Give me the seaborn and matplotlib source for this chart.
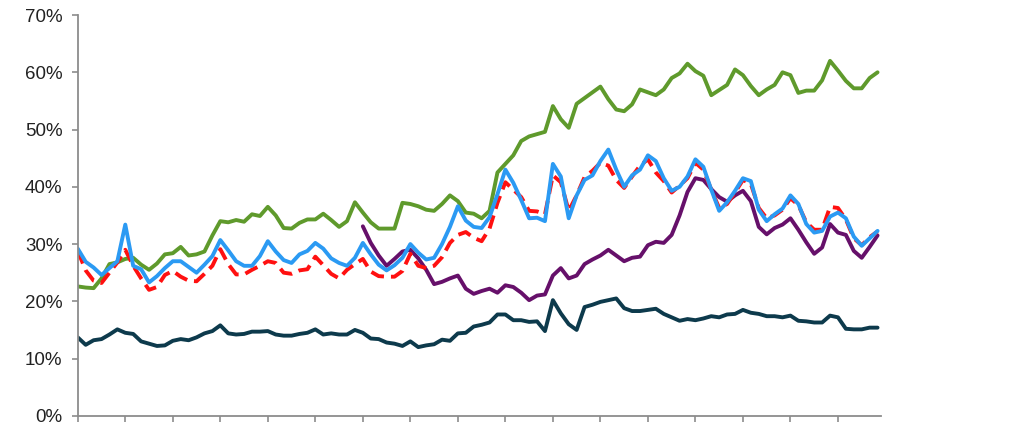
import numpy as np
import pandas as pd
import seaborn as sns
import matplotlib.pyplot as plt
from matplotlib.ticker import PercentFormatter

# values, 6 points per x tick
green = [22.6, 22.4, 22.3, 24.0, 26.5, 26.8, 27.4, 27.6, 26.4, 25.5,
         26.6, 28.2, 28.4, 29.5, 28.0, 28.2, 28.7, 31.5, 34.0, 33.8,
         34.2, 33.9, 35.2, 34.9, 36.5, 35.0, 32.8, 32.7, 33.7, 34.3,
         34.3, 35.3, 34.2, 33.0, 34.0, 37.3, 35.5, 33.8, 32.7, 32.7,
         32.7, 37.2, 37.0, 36.6, 36.0, 35.8, 37.0, 38.5, 37.5, 35.5,
         35.3, 34.5, 35.8, 42.5, 44.0, 45.5, 48.0, 48.8, 49.2, 49.6,
         54.1, 51.8, 50.3, 54.5, 55.5, 56.5, 57.5, 55.3, 53.5, 53.2,
         54.4, 57.0, 56.5, 56.0, 57.0, 59.0, 59.8, 61.5, 60.2, 59.4,
         56.0, 56.9, 57.8, 60.5, 59.5, 57.6, 56.0, 57.0, 57.8, 60.0,
         59.5, 56.4, 56.8, 56.8, 58.6, 62.0, 60.3, 58.5, 57.2, 57.2,
         59.0, 60.0]

blue = [29.2, 26.9, 25.9, 24.6, 25.8, 27.0, 33.4, 26.2, 25.6, 23.3,
        24.4, 25.8, 27.0, 27.0, 26.0, 25.0, 26.4, 27.9, 30.7, 28.9,
        27.0, 26.2, 26.2, 27.9, 30.5, 28.7, 27.2, 26.7, 28.2, 28.8,
        30.2, 29.2, 27.5, 26.7, 26.2, 27.6, 30.2, 28.2, 26.4, 25.4,
        26.3, 27.6, 30.0, 28.5, 27.3, 27.6, 30.0, 33.0, 36.6, 34.1,
        33.0, 32.8, 34.7, 38.7, 43.0, 40.7, 37.7, 34.5, 34.6, 34.0,
        44.0, 41.8, 34.5, 38.5, 41.2, 42.0, 44.5, 46.5, 43.0, 40.0,
        42.0, 43.0, 45.5, 44.5, 41.5, 39.3, 40.0, 41.8, 44.8, 43.5,
        39.5, 35.8, 37.3, 39.3, 41.5, 41.0, 36.0, 34.0, 35.2, 36.2,
        38.5, 37.0, 33.5, 32.0, 32.3, 34.8, 35.5, 34.5, 31.3, 29.7,
        31.0, 32.3]

red = [28.8, 25.4, 23.6, 23.2, 25.0, 26.8, 29.0, 26.2, 24.0, 22.0,
       22.5, 24.6, 25.3, 24.3, 23.6, 23.5, 24.8, 26.2, 29.1, 26.5,
       24.7, 24.7, 25.5, 26.2, 27.0, 26.7, 25.0, 24.8, 25.4, 25.6,
       27.8, 26.3, 24.8, 24.0, 25.5, 26.5, 27.4, 25.2, 24.4, 24.3,
       24.3, 25.3, 28.3, 26.2, 25.8, 26.2, 27.7, 30.2, 31.6, 32.1,
       31.1, 30.5, 32.7, 37.2, 40.8, 39.5, 38.2, 35.8, 35.7, 35.2,
       42.0, 40.8, 35.8, 38.5, 41.7, 42.8, 44.2, 43.7, 41.2, 39.8,
       41.8, 43.7, 44.8, 42.5, 41.0, 39.0, 40.2, 41.5, 44.2, 43.0,
       39.5, 36.3, 37.0, 39.0, 41.2, 40.5, 36.3, 34.5, 35.0, 36.0,
       38.0, 36.8, 33.8, 32.5, 32.5, 36.5, 36.3, 34.3, 31.0, 29.8,
       31.2, 32.2]

# purple series starts later (point 36)
purple_start = 36
purple = [33.1, 30.2, 28.0, 26.2, 27.4, 28.7, 29.0, 27.5, 25.5, 23.0,
          23.4, 24.0, 24.5, 22.2, 21.3, 21.8, 22.2, 21.5, 22.8, 22.5,
          21.5, 20.2, 21.0, 21.2, 24.5, 25.8, 24.0, 24.5, 26.5, 27.3,
          28.0, 29.0, 28.0, 27.0, 27.6, 27.8, 29.8, 30.4, 30.2, 31.6,
          35.0, 39.1, 41.5, 41.2, 39.6, 38.2, 37.4, 38.5, 39.3, 37.5,
          33.0, 31.7, 32.8, 33.4, 34.5, 32.5, 30.3, 28.3, 29.4, 33.5,
          32.0, 31.6, 28.8, 27.6, 29.5, 31.5]

teal = [13.7, 12.4, 13.2, 13.4, 14.2, 15.1, 14.5, 14.3, 13.0, 12.6,
        12.2, 12.3, 13.1, 13.4, 13.2, 13.7, 14.4, 14.8, 15.8, 14.4,
        14.2, 14.3, 14.7, 14.7, 14.8, 14.2, 14.0, 14.0, 14.3, 14.5,
        15.1, 14.2, 14.4, 14.2, 14.2, 15.0, 14.5, 13.5, 13.4, 12.8,
        12.6, 12.2, 13.0, 12.0, 12.3, 12.5, 13.3, 13.1, 14.4, 14.5,
        15.6, 15.9, 16.3, 17.7, 17.7, 16.7, 16.7, 16.4, 16.5, 14.8,
        20.2, 17.9, 16.0, 15.0, 19.0, 19.4, 19.9, 20.2, 20.5, 18.8,
        18.3, 18.3, 18.5, 18.7, 17.8, 17.2, 16.6, 16.9, 16.7, 17.0,
        17.4, 17.2, 17.7, 17.8, 18.5, 18.0, 17.8, 17.4, 17.4, 17.2,
        17.5, 16.6, 16.5, 16.3, 16.3, 17.5, 17.2, 15.2, 15.1, 15.1,
        15.4, 15.4]

idx = np.arange(len(green))
idx_p = np.arange(purple_start, purple_start + len(purple))

sns.set_style("white")
plt.rcParams['font.family'] = ['Liberation Sans', 'DejaVu Sans']

fig = plt.figure(figsize=(10.1, 4.3), dpi=100)
ax = fig.add_axes([0.077, 0.033, 0.795, 0.932])

lw = 2.8
kw = dict(linewidth=lw, ax=ax, solid_joinstyle='round', dash_joinstyle='round')
sns.lineplot(x=idx, y=green, color='#5f9a2c', **kw)
sns.lineplot(x=idx_p, y=purple, color='#66106a', **kw)
sns.lineplot(x=idx, y=red, color='#ff1010', linestyle=(0, (3.5, 1.8)), **kw)
sns.lineplot(x=idx, y=blue, color='#2b9af3', **kw)
sns.lineplot(x=idx, y=teal, color='#0d3a4c', **kw)

ax.set_xlim(0, 101.4)
ax.set_ylim(0, 70)
ax.set_xticks(np.arange(0, 101, 6))
ax.set_xticklabels([])
ax.set_yticks(np.arange(0, 71, 10))
ax.yaxis.set_major_formatter(PercentFormatter(decimals=0))
ax.set_xlabel('')
ax.set_ylabel('')

for side in ['top', 'right']:
    ax.spines[side].set_visible(False)
for side in ['left', 'bottom']:
    ax.spines[side].set_color('#8c8c8c')
    ax.spines[side].set_linewidth(1.3)

ax.tick_params(axis='both', left=True, bottom=True, length=4, width=1.2,
               color='#8c8c8c', labelsize=13.5, labelcolor='#222222')
ax.tick_params(axis='y', pad=7)

fig.savefig('out.png', dpi=100)
